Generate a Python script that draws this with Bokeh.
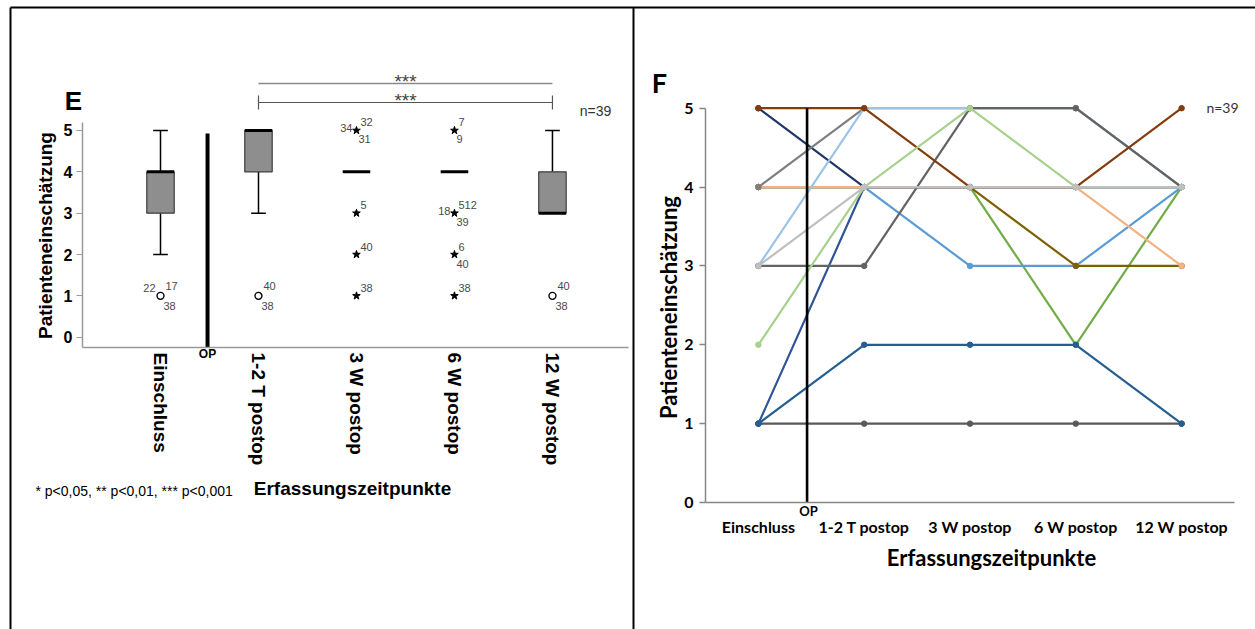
import math
from bokeh.plotting import figure
from bokeh.models import Range1d, FixedTicker, Label
from bokeh.embed import file_html
from bokeh.resources import INLINE
from bokeh.core.properties import value

# ---------------- data ----------------
categories = ["Einschluss", "1-2 T postop", "3 W postop", "6 W postop", "12 W postop"]
y_ticks = [0, 1, 2, 3, 4, 5]
n_text = "n=39"
op_text = "OP"
x_title = "Erfassungszeitpunkte"
y_title = "Patienteneinschätzung"
footnote = "* p<0,05, ** p<0,01, *** p<0,001"
panel_names = ["E", "F"]

# panel E: box plot statistics per time point
box_low = [2, 3, 4, 4, 3]
box_q1 = [3, 4, 4, 4, 3]
box_med = [4, 5, 4, 4, 3]
box_q3 = [4, 5, 4, 4, 4]
box_high = [5, 5, 4, 4, 5]
# outliers (circles) and extremes (stars)
out_cat = [0, 1, 4]
out_val = [1, 1, 1]
ext_cat = [2, 2, 2, 2, 3, 3, 3, 3]
ext_val = [5, 3, 2, 1, 5, 3, 2, 1]
# case labels next to outliers
case_cat = [0, 0, 0, 1, 1, 2, 2, 2, 2, 2, 2, 3, 3, 3, 3, 3, 3, 3, 3, 4, 4]
case_val = [1, 1, 1, 1, 1, 5, 5, 5, 3, 2, 1, 5, 5, 3, 3, 3, 2, 2, 1, 1, 1]
case_txt = ["22", "17", "38", "40", "38", "34", "32", "31", "5", "40", "38",
            "7", "9", "18", "512", "39", "6", "40", "38", "40", "38"]
case_side = ["l", "ur", "lr", "ur", "lr", "l", "ur", "lr", "ur", "ur", "ur",
             "ur", "lr", "l", "ur", "lr", "ur", "lr", "ur", "ur", "lr"]
# significance brackets
sig_from = [1, 1]
sig_to = [4, 4]
sig_txt = ["***", "***"]
op_pos_e = 0.48
op_pos_f = 0.46

# panel F: individual patient courses (draw order bottom -> top)
series_colors = ["#595959", "#70AD47", "#2F5597", "#1F3864", "#5B9BD5", "#7F6000",
                 "#F4B183", "#7F7F7F", "#9DC3E6", "#636363", "#843C0C", "#A9D18E",
                 "#BFBFBF", "#255E91"]
series_values = [
    [1, 1, 1, 1, 1],
    [4, 4, 4, 2, 4],
    [1, 4, 4, 4, 4],
    [5, 4, 4, 4, 4],
    [4, 4, 3, 3, 4],
    [4, 4, 4, 3, 3],
    [4, 4, 4, 4, 3],
    [4, 5, 5, 5, 4],
    [3, 5, 5, 5, 4],
    [3, 3, 5, 5, 4],
    [5, 5, 4, 4, 5],
    [2, 4, 5, 4, 4],
    [3, 4, 4, 4, 4],
    [1, 2, 2, 2, 1],
]

idx = list(range(len(categories)))
ARIAL = "Liberation Sans"
NARROW = "'Liberation Sans Narrow', 'Liberation Sans'"
CAL = "Lato"
W, H = 1255, 629


def place(p, left, top, z):
    p.styles = {"position": "absolute", "left": f"{left}px", "top": f"{top}px", "z-index": str(z)}


# ---------------- panel E ----------------
EW = 633
E_ml, E_mr, E_mt, E_mb = 82, 5, 60, 282
ex0, ex1 = -0.796, 4.776
ey0, ey1 = -0.249, 6.692
pE = figure(width=EW, height=H, x_range=Range1d(ex0, ex1), y_range=Range1d(ey0, ey1),
            output_backend="svg", toolbar_location=None,
            min_border_left=E_ml, min_border_right=E_mr, min_border_top=E_mt, min_border_bottom=E_mb)
place(pE, 0, 0, 1)
pE.grid.visible = False
pE.outline_line_color = None

E_fw, E_fh = EW - E_ml - E_mr, H - E_mt - E_mb


def e_y(py):
    return ey1 - (py - E_mt) / E_fh * (ey1 - ey0)


ax = pE.xaxis[0]
ax.ticker = FixedTicker(ticks=idx)
ax.major_label_overrides = {i: c for i, c in enumerate(categories)}
ax.major_label_orientation = -math.pi / 2
ax.major_tick_out = 0
ax.major_tick_in = 0
ax.minor_tick_out = 0
ax.axis_line_color = "#9a9a9a"
ax.axis_line_width = 1.5
ax.major_label_text_font = ARIAL
ax.major_label_text_font_style = "bold"
ax.major_label_text_font_size = "19px"
ax.major_label_text_color = "black"
ax.major_label_standoff = 5

ay = pE.yaxis[0]
ay.ticker = FixedTicker(ticks=y_ticks)
ay.bounds = (ey0, e_y(122))
ay.axis_line_color = "#9a9a9a"
ay.axis_line_width = 1.5
ay.major_tick_line_color = "#9a9a9a"
ay.major_tick_out = 6
ay.major_tick_in = 0
ay.minor_tick_out = 0
ay.minor_tick_in = 0
ay.major_label_text_font = ARIAL
ay.major_label_text_font_style = "bold"
ay.major_label_text_font_size = "16px"
ay.major_label_text_color = "black"
ay.major_label_standoff = 4

hw = 0.14
cw = 0.075
pE.segment(x0=idx, y0=box_q3, x1=idx, y1=box_high, line_color="black", line_width=1.5)
pE.segment(x0=idx, y0=box_q1, x1=idx, y1=box_low, line_color="black", line_width=1.5)
pE.segment(x0=[i - cw for i in idx], y0=box_high, x1=[i + cw for i in idx], y1=box_high,
           line_color="black", line_width=1.5)
pE.segment(x0=[i - cw for i in idx], y0=box_low, x1=[i + cw for i in idx], y1=box_low,
           line_color="black", line_width=1.5)
pE.quad(left=[i - hw for i in idx], right=[i + hw for i in idx], bottom=box_q1, top=box_q3,
        fill_color="#8e8e8e", line_color="#3c3c3c", line_width=1.2)
pE.segment(x0=[i - hw for i in idx], y0=box_med, x1=[i + hw for i in idx], y1=box_med,
           line_color="black", line_width=3)
pE.scatter(x=out_cat, y=out_val, marker="circle", size=7, fill_color="white",
           line_color="black", line_width=1.4)
pE.scatter(x=ext_cat, y=ext_val, marker="star", size=8, fill_color="black", line_color="black")

circ = set(zip(out_cat, out_val))
offs_c = {"ur": (5, -10, "left"), "lr": (3, 10, "left"), "l": (-5, -8, "right")}
offs_s = {"ur": (4, -8, "left"), "lr": (2, 9, "left"), "l": (-4, -2, "right")}
for align in ("left", "right"):
    xs, ys, ts, dx, dy = [], [], [], [], []
    for c, v, t, s in zip(case_cat, case_val, case_txt, case_side):
        o = (offs_c if (c, v) in circ else offs_s)[s]
        if o[2] != align:
            continue
        xs.append(c); ys.append(v); ts.append(t); dx.append(o[0]); dy.append(o[1])
    pE.text(x=xs, y=ys, text=ts, x_offset=dx, y_offset=dy, text_align=align,
            text_baseline="middle", text_font=value(ARIAL), text_font_size="11px",
            text_color="#4a4a4a")

pE.segment(x0=[op_pos_e], y0=[e_y(133)], x1=[op_pos_e], y1=[ey0],
           line_color="black", line_width=4)

lv_top = e_y(83)
lv_2 = e_y(102)
pE.segment(x0=[sig_from[0]], y0=[lv_top], x1=[sig_to[0]], y1=[lv_top],
           line_color="#8a8a8a", line_width=1.5)
pE.segment(x0=[sig_from[1]], y0=[lv_2], x1=[sig_to[1]], y1=[lv_2],
           line_color="#555555", line_width=1.2)
pE.segment(x0=[sig_from[1], sig_to[1]], y0=[e_y(95)] * 2,
           x1=[sig_from[1], sig_to[1]], y1=[e_y(109)] * 2,
           line_color="#555555", line_width=1.2)
pE.text(x=[(a + b) / 2 for a, b in zip(sig_from, sig_to)], y=[lv_top, lv_2], text=sig_txt,
        y_offset=[-2, -2], text_align="center", text_baseline="middle",
        text_font=value(ARIAL), text_font_size="19px", text_color="#444444")

# ---------------- panel F ----------------
FW = W - EW
F_ml, F_mr, F_mt, F_mb = 72, 21, 100, 127
fx0, fx1 = -0.5, 4.5
F_fh = H - F_mt - F_mb
fy0, fy1 = 0, F_fh / 78.86
pF = figure(width=FW, height=H, x_range=Range1d(fx0, fx1), y_range=Range1d(fy0, fy1),
            output_backend="svg", toolbar_location=None,
            min_border_left=F_ml, min_border_right=F_mr, min_border_top=F_mt, min_border_bottom=F_mb)
place(pF, EW, 0, 1)
pF.grid.visible = False
pF.outline_line_color = None

bx = pF.xaxis[0]
bx.ticker = FixedTicker(ticks=idx)
bx.major_label_overrides = {i: c for i, c in enumerate(categories)}
bx.major_tick_out = 0
bx.major_tick_in = 0
bx.minor_tick_out = 0
bx.axis_line_color = "#868686"
bx.axis_line_width = 1.5
bx.major_label_text_font = CAL
bx.major_label_text_font_style = "bold"
bx.major_label_text_font_size = "16px"
bx.major_label_text_color = "black"
bx.major_label_standoff = 14

by = pF.yaxis[0]
by.ticker = FixedTicker(ticks=y_ticks)
by.bounds = (0, 5)
by.axis_line_color = "#868686"
by.axis_line_width = 1.5
by.major_tick_line_color = "#868686"
by.major_tick_line_width = 1.5
by.major_tick_out = 6
by.major_tick_in = 0
by.minor_tick_out = 0
by.minor_tick_in = 0
by.major_label_text_font = CAL
by.major_label_text_font_style = "bold"
by.major_label_text_font_size = "16px"
by.major_label_text_color = "black"
by.major_label_standoff = 6

for col, vals in zip(series_colors, series_values):
    pF.line(x=idx, y=vals, line_color=col, line_width=2.2)
    pF.scatter(x=idx, y=vals, marker="circle", size=5.5, fill_color=col, line_color=col)

pF.segment(x0=[op_pos_f], y0=[5], x1=[op_pos_f], y1=[fy0], line_color="black", line_width=2.6)

# ---------------- overlay: frame lines and free texts ----------------
pO = figure(width=W, height=H, x_range=Range1d(0, W), y_range=Range1d(H, 0),
            x_axis_type=None, y_axis_type=None, output_backend="svg", toolbar_location=None,
            min_border=0)
place(pO, 0, 0, 5)
pO.grid.visible = False
pO.outline_line_color = None
pO.background_fill_alpha = 0
pO.border_fill_alpha = 0
pO.segment(x0=[10, 10, 633], y0=[7, 7, 7], x1=[W, 10, 633], y1=[7, H, H],
           line_color="black", line_width=2)


def lab(px, py, text, size, bold=False, font=ARIAL, align="center", angle=0, color="black"):
    pO.add_layout(Label(x=px, y=py, text=text, text_font=font, text_font_size=size,
                        text_font_style="bold" if bold else "normal", text_align=align,
                        text_baseline="middle", angle=angle, text_color=color))


lab(73, 100, panel_names[0], "26px", bold=True, font=NARROW)
lab(595, 110, n_text, "14px", font=NARROW, color="#333333")
lab(45, 235, y_title, "19px", bold=True, angle=math.pi / 2)
lab(352, 488, x_title, "19px", bold=True)
lab(35, 490, footnote, "14px", align="left")
lab(207, 353, op_text, "12px", bold=True, font=NARROW)

lab(659, 82, panel_names[1], "27px", bold=True, font=CAL)
lab(1222, 107, n_text, "14px", font=CAL, color="#333333")
lab(668, 307, y_title, "22px", bold=True, font=CAL, angle=math.pi / 2)
lab(991, 557, x_title, "22px", bold=True, font=CAL)
lab(808, 510, op_text, "13px", bold=True, font=CAL)

open("out.html", "w").write(file_html([pE, pF, pO], INLINE))
